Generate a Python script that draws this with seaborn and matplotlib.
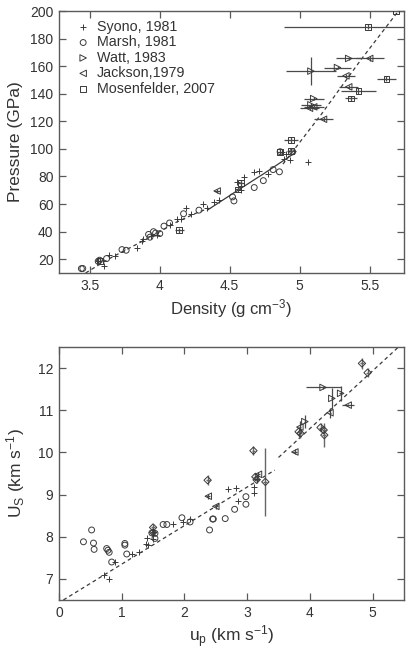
import numpy as np
import pandas as pd
import matplotlib
matplotlib.use("Agg")
import matplotlib.pyplot as plt
import seaborn as sns

sns.set_theme(style="ticks")
plt.rcParams['font.family'] = ['Liberation Sans', 'DejaVu Sans']
plt.rcParams['mathtext.fontset'] = 'custom'
plt.rcParams['mathtext.rm'] = 'Liberation Sans'
plt.rcParams['mathtext.it'] = 'Liberation Sans:italic'
plt.rcParams['xtick.direction'] = 'in'
plt.rcParams['ytick.direction'] = 'in'
plt.rcParams['xtick.top'] = True
plt.rcParams['ytick.right'] = True
plt.rcParams['xtick.major.size'] = 5
plt.rcParams['ytick.major.size'] = 5

# ---------------- Top panel: Pressure vs density ----------------
syono_d = [3.56, 3.60, 3.64, 3.68, 3.84, 3.87, 3.88, 3.94, 3.98, 4.075, 4.12, 4.15, 4.19, 4.22,
           4.31, 4.34, 4.39, 4.42, 4.55, 4.58, 4.60, 4.67, 4.71, 4.77, 4.87, 4.89, 4.90, 4.93, 5.06]
syono_P = [19, 15, 23, 22, 28.5, 33, 35, 37, 37.4, 44.7, 49, 49.5, 57.5, 52.6,
           60.4, 56.8, 61.6, 62.8, 76, 70, 79.7, 83.4, 84, 81.5, 98, 93, 96, 92, 90.6]

marsh_d = [3.44, 3.45, 3.56, 3.57, 3.62, 3.73, 3.76, 3.92, 3.93, 3.955, 3.97, 4.0, 4.03, 4.07,
           4.17, 4.28, 4.52, 4.53, 4.675, 4.74, 4.81, 4.855, 4.86, 4.95]
marsh_P = [13.2, 13.3, 18.5, 19.3, 20.5, 27, 26.5, 38, 36, 40, 39, 38.6, 44, 46.3,
           53, 55.6, 65.2, 62.3, 72, 77, 85, 83.4, 98, 97.9]

watt_d = [5.08, 5.10, 5.08, 5.27, 5.35]
watt_P = [132, 136.5, 156.4, 159, 165.6]
watt_dx = [0.07, 0.07, 0.18, 0.10, 0.09]
watt_dP = [1.0, 1.0, 10.3, 1.0, 1.0]

jack_d = [4.41, 5.07, 5.10, 5.17, 5.35, 5.33, 5.50]
jack_P = [69.5, 129.5, 130.5, 121.5, 145, 153, 165.6]
jack_dx = [0.02, 0.07, 0.07, 0.07, 0.07, 0.065, 0.10]
jack_dP = [1.5, 1.5, 1.5, 1.5, 1.5, 1.5, 1.5]

mos_d = [3.57, 4.14, 4.56, 4.58, 4.86, 4.94, 4.94, 5.365, 5.42, 5.62, 5.49, 5.69]
mos_P = [19, 41, 70.6, 75.4, 98, 98.6, 106.4, 136.6, 142, 151, 188.6, 200]
mos_dx = [0.01, 0.03, 0.02, 0.02, 0.02, 0.03, 0.05, 0.045, 0.126, 0.07, 0.60, 0.0]
mos_dP = [1.5, 2, 2, 2, 2, 2, 2, 2, 2, 2, 2, 0]

hug1_d = [3.47, 3.55, 3.65, 3.80, 3.95, 4.10, 4.25, 4.35]
hug1_P = [10, 15, 21, 29, 37, 46, 53, 57]
hug2_d = [4.34, 4.55, 4.75, 4.96]
hug2_P = [55.6, 69.5, 82.5, 96.7]
hug3_d = [4.88, 5.15, 5.44, 5.72]
hug3_P = [89, 124.5, 165, 202]

# ---------------- Bottom panel: Us vs up ----------------
syB_up = [0.71, 0.79, 0.89, 1.16, 1.28, 1.38, 1.42, 1.40, 1.50, 1.50, 1.81, 1.97, 2.09,
          2.70, 2.82, 2.86, 3.11, 3.11, 3.15]
syB_us = [7.10, 6.99, 7.40, 7.60, 7.64, 7.82, 7.80, 7.98, 7.94, 8.12, 8.31, 8.35, 8.43,
          9.12, 9.16, 8.85, 9.03, 9.18, 9.36]

maB_up = [0.39, 0.52, 0.55, 0.56, 0.76, 0.78, 0.80, 0.84, 1.05, 1.05, 1.08, 1.48, 1.53, 1.53,
          1.66, 1.72, 1.96, 2.09, 2.40, 2.45, 2.46, 2.65, 2.80, 2.98, 2.98]
maB_us = [7.88, 8.16, 7.85, 7.70, 7.72, 7.68, 7.63, 7.40, 7.84, 7.80, 7.59, 8.09, 8.08, 7.96,
          8.29, 8.29, 8.45, 8.35, 8.16, 8.42, 8.42, 8.43, 8.65, 8.77, 8.95]

waB_up = [3.92, 4.21, 4.35, 4.49]
waB_us = [10.73, 11.54, 11.28, 11.40]
waB_dx = [0.02, 0.28, 0.02, 0.02]
waB_dy = [0.15, 0.04, 0.25, 0.17]

jaB_up = [2.38, 2.50, 3.18, 3.76, 3.84, 4.32, 4.61]
jaB_us = [8.96, 8.72, 9.48, 10.01, 10.60, 10.94, 11.12]
jaB_dx = [0.03, 0.03, 0.03, 0.04, 0.02, 0.02, 0.10]
jaB_dy = [0.06, 0.06, 0.06, 0.06, 0.15, 0.12, 0.03]

moB_up = [1.50, 1.50, 2.37, 3.10, 3.13, 3.15, 3.29, 3.82, 3.85, 4.17, 4.22, 4.23, 4.83, 4.92]
moB_us = [8.22, 8.10, 9.34, 10.04, 9.42, 9.35, 9.30, 10.49, 10.45, 10.59, 10.53, 10.41, 12.11, 11.89]
moB_dx = [0.03] * 14
moB_dy = [0.08, 0.08, 0.12, 0.10, 0.08, 0.08, 0.80, 0.12, 0.10, 0.10, 0.10, 0.28, 0.13, 0.10]

fitB1_up = [0.07, 3.44]
fitB1_us = [6.50, 9.58]
fitB2_up = [3.50, 5.45]
fitB2_us = [9.88, 12.55]

labels = ["Syono, 1981", "Marsh, 1981", "Watt, 1983", "Jackson,1979", "Mosenfelder, 2007"]

EC = "#3a3a3a"
ERR = "#4a4a4a"
SPINE = "#5a5a5a"
TXT = "#333333"

fig = plt.figure(figsize=(4.14, 6.56), dpi=100)
ax1 = fig.add_axes([0.1425, 0.5838, 0.8333, 0.3994])
ax2 = fig.add_axes([0.1425, 0.0854, 0.8333, 0.3857])


def errbars(ax, x, y, dx, dy, lw=0.9, color=ERR):
    ax.errorbar(x, y, xerr=dx, yerr=dy, fmt='none', ecolor=color, elinewidth=lw,
                capsize=0, zorder=2)


def pts(ax, x, y, marker, size, label=None, lw=0.7):
    df = pd.DataFrame({"x": x, "y": y})
    if marker == '+':
        sns.scatterplot(data=df, x="x", y="y", ax=ax, marker='+', s=size,
                        color=EC, linewidth=lw, label=label, zorder=3, legend=False)
    else:
        sns.scatterplot(data=df, x="x", y="y", ax=ax, marker=marker, s=size,
                        facecolor='none', edgecolor=EC, linewidth=lw,
                        label=label, zorder=3, legend=False)


# Top panel lines
sns.lineplot(x=hug1_d, y=hug1_P, ax=ax1, color=EC, lw=0.9, sort=False,
             linestyle=(0, (3, 2.5)), zorder=1)
sns.lineplot(x=hug2_d, y=hug2_P, ax=ax1, color=EC, lw=0.9, sort=False, zorder=1)
sns.lineplot(x=hug3_d, y=hug3_P, ax=ax1, color=EC, lw=0.9, sort=False,
             linestyle=(0, (3, 2.5)), zorder=1)

errbars(ax1, watt_d, watt_P, watt_dx, watt_dP)
errbars(ax1, jack_d, jack_P, jack_dx, jack_dP)
errbars(ax1, mos_d, mos_P, mos_dx, mos_dP)

pts(ax1, syono_d, syono_P, '+', 22, labels[0])
pts(ax1, marsh_d, marsh_P, 'o', 18, labels[1])
pts(ax1, watt_d, watt_P, '>', 22, labels[2])
pts(ax1, jack_d, jack_P, '<', 22, labels[3])
pts(ax1, mos_d, mos_P, 's', 18, labels[4])

ax1.set_xlim(3.28, 5.745)
ax1.set_ylim(10, 200)
ax1.set_xticks([3.5, 4, 4.5, 5, 5.5])
ax1.set_xticklabels(["3.5", "4", "4.5", "5", "5.5"])
ax1.set_yticks(np.arange(20, 201, 20))
ax1.set_xlabel(r"Density (g cm$^{-3}$)", fontsize=12, color=TXT, labelpad=3)
ax1.set_ylabel("Pressure (GPa)", fontsize=12.5, color=TXT, labelpad=5)

h, l = ax1.get_legend_handles_labels()
ax1.legend(h, l, loc='upper left', frameon=False, fontsize=10.3, handletextpad=0.35,
           borderaxespad=0.4, labelspacing=0.1, handlelength=1.2,
           bbox_to_anchor=(0.012, 1.01), labelcolor=TXT)

# Bottom panel
sns.lineplot(x=fitB1_up, y=fitB1_us, ax=ax2, color=EC, lw=0.9, sort=False,
             linestyle=(0, (3, 2.5)), zorder=1)
sns.lineplot(x=fitB2_up, y=fitB2_us, ax=ax2, color=EC, lw=0.9, sort=False,
             linestyle=(0, (3, 2.5)), zorder=1)

errbars(ax2, waB_up, waB_us, waB_dx, waB_dy)
errbars(ax2, jaB_up, jaB_us, jaB_dx, jaB_dy)
errbars(ax2, moB_up, moB_us, moB_dx, moB_dy, color="#666666", lw=1.0)

pts(ax2, syB_up, syB_us, '+', 22)
pts(ax2, maB_up, maB_us, 'o', 18)
pts(ax2, waB_up, waB_us, '>', 22)
pts(ax2, jaB_up, jaB_us, '<', 22)
pts(ax2, moB_up, moB_us, 'D', 14)

ax2.set_xlim(0, 5.5)
ax2.set_ylim(6.5, 12.5)
ax2.set_xticks([0, 1, 2, 3, 4, 5])
ax2.set_yticks([7, 8, 9, 10, 11, 12])
ax2.set_xlabel(r"u$_\mathrm{p}$ (km s$^{-1}$)", fontsize=12.5, color=TXT, labelpad=3)
ax2.set_ylabel(r"U$_\mathrm{S}$ (km s$^{-1}$)", fontsize=12.5, color=TXT, labelpad=8)

for ax in (ax1, ax2):
    for sp in ax.spines.values():
        sp.set_visible(True)
        sp.set_color(SPINE)
        sp.set_linewidth(1.0)
    ax.tick_params(axis='both', which='major', direction='in', length=5, width=0.9,
                   color=SPINE, labelsize=10, labelcolor=TXT, top=True, right=True,
                   bottom=True, left=True, pad=4)

fig.savefig("out.png", dpi=100)
